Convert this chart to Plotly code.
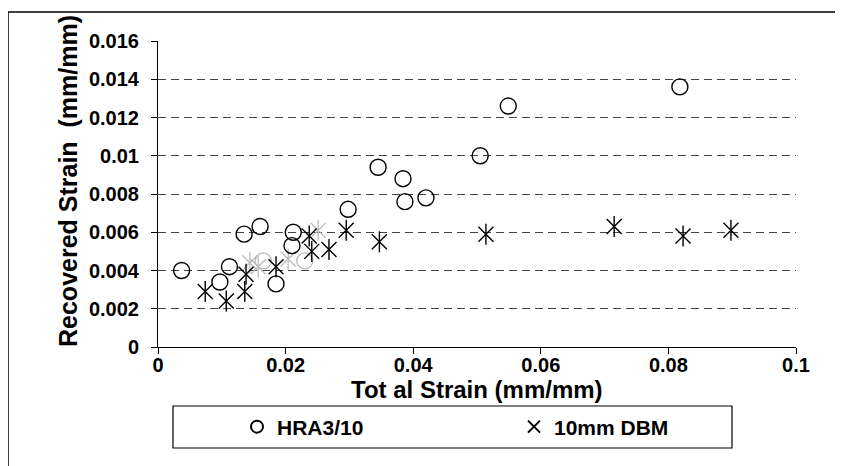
import plotly.graph_objects as go

# HRA3/10 (circles)
hra_x = [0.0037, 0.0097, 0.0112, 0.0135, 0.0160, 0.0185, 0.0210, 0.0212, 0.0298,
         0.0345, 0.0384, 0.0387, 0.0420, 0.0505, 0.0549, 0.0818]
hra_y = [0.0040, 0.0034, 0.0042, 0.0059, 0.0063, 0.0033, 0.0053, 0.0060, 0.0072,
         0.0094, 0.0088, 0.0076, 0.0078, 0.0100, 0.0126, 0.0136]
# partially visible (faded) HRA3/10 points
hra_faded_x = [0.0165, 0.0230]
hra_faded_y = [0.0045, 0.0045]

# 10mm DBM (stars)
dbm_x = [0.0074, 0.0107, 0.0136, 0.0138, 0.0185, 0.0237, 0.0241, 0.0268, 0.0295,
         0.0347, 0.0514, 0.0715, 0.0823, 0.0898]
dbm_y = [0.0029, 0.0024, 0.0029, 0.0038, 0.0042, 0.0058, 0.0050, 0.0051, 0.0061,
         0.0055, 0.0059, 0.0063, 0.0058, 0.0061]
dbm_faded_x = [0.0144, 0.0157, 0.0204, 0.0251]
dbm_faded_y = [0.0044, 0.0042, 0.0046, 0.0061]

x_ticks = [0, 0.02, 0.04, 0.06, 0.08, 0.1]
x_ticklabels = ["0", "0.02", "0.04", "0.06", "0.08", "0.1"]
y_ticks = [0, 0.002, 0.004, 0.006, 0.008, 0.01, 0.012, 0.014, 0.016]
y_ticklabels = ["0", "0.002", "0.004", "0.006", "0.008", "0.01", "0.012", "0.014", "0.016"]

FONT = "Liberation Sans, Arial, sans-serif"
STAR = 15
fig = go.Figure()

# faded markers
fig.add_trace(go.Scatter(x=hra_faded_x, y=hra_faded_y, mode="markers", showlegend=False,
                         marker=dict(symbol="circle-open", size=16, color="#bbbbbb",
                                     line=dict(width=1.3, color="#bbbbbb")), hoverinfo="skip"))
for sym in ["x-thin-open", "line-ns-open"]:
    fig.add_trace(go.Scatter(x=dbm_faded_x, y=dbm_faded_y, mode="markers", showlegend=False,
                             marker=dict(symbol=sym, size=STAR, color="#bbbbbb",
                                         line=dict(width=1.3, color="#bbbbbb")), hoverinfo="skip"))

fig.add_trace(go.Scatter(x=hra_x, y=hra_y, mode="markers", name="HRA3/10",
                         marker=dict(symbol="circle-open", size=16, color="black",
                                     line=dict(width=1.4, color="black"))))
fig.add_trace(go.Scatter(x=dbm_x, y=dbm_y, mode="markers", name="10mm DBM",
                         marker=dict(symbol="x-thin-open", size=STAR, color="black",
                                     line=dict(width=1.4, color="black"))))
fig.add_trace(go.Scatter(x=dbm_x, y=dbm_y, mode="markers", showlegend=False,
                         marker=dict(symbol="line-ns-open", size=STAR, color="black",
                                     line=dict(width=1.4, color="black"))))

W, H = 843, 466
OFF = 8  # page body margin
L, T = 150, 33
R, B = W - 788, H - 339
pw, ph = W - L - R, H - T - B


def px(ximg):
    return (ximg - OFF - L) / pw


def py(yimg):
    return (H - B - (yimg - OFF)) / ph


fig.update_layout(
    width=W, height=H,
    margin=dict(l=L, r=R, t=T, b=B, pad=0),
    paper_bgcolor="white", plot_bgcolor="white",
    font=dict(family=FONT, size=20, color="black", weight="bold"),
    xaxis=dict(range=[0, 0.1], tickvals=x_ticks, ticktext=x_ticklabels,
               showgrid=False, zeroline=False, showline=True, linecolor="black", linewidth=1,
               ticks="outside", ticklen=6, tickcolor="black", tickwidth=1,
               ticklabelstandoff=-6,
               tickfont=dict(family=FONT, size=20, weight="bold")),
    yaxis=dict(range=[0, 0.016], tickvals=y_ticks, ticktext=y_ticklabels,
               showgrid=True, gridcolor="#444444", griddash="8px,5px", gridwidth=1.3,
               zeroline=False, showline=True, linecolor="black", linewidth=1,
               ticks="outside", ticklen=6, tickcolor="black", tickwidth=1,
               ticklabelstandoff=8,
               tickfont=dict(family=FONT, size=20, weight="bold")),
    showlegend=True,
    legend=dict(orientation="h", x=px(237), xanchor="left", y=py(427), yanchor="middle",
                bgcolor="rgba(0,0,0,0)", borderwidth=0, entrywidth=232, entrywidthmode="pixels",
                font=dict(family=FONT, size=21, weight="bold"), itemsizing="constant"),
    annotations=[
        dict(text="Tot al Strain (mm/mm)", x=px(477), y=py(389), xref="paper", yref="paper",
             showarrow=False, xanchor="center", yanchor="middle",
             font=dict(family=FONT, size=24, weight="bold")),
        dict(text="Recovered Strain  (mm/mm)", x=px(68), y=py(181), xref="paper", yref="paper",
             showarrow=False, xanchor="center", yanchor="middle", textangle=-90,
             font=dict(family=FONT, size=25, weight="bold")),
    ],
    shapes=[
        dict(type="rect", xref="paper", yref="paper", x0=px(8), x1=px(860), y0=py(480), y1=py(12),
             line=dict(color="black", width=1.5)),
        dict(type="rect", xref="paper", yref="paper", x0=px(173), x1=px(732), y0=py(448), y1=py(406),
             line=dict(color="black", width=1.2)),
    ],
)

fig.write_html("out.html")
